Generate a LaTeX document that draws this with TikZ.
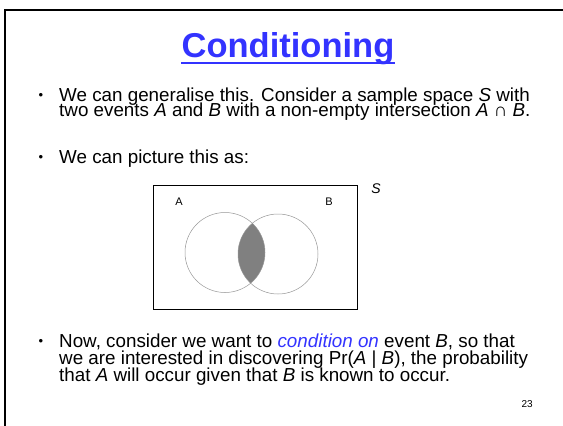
\documentclass[tikz,border=0pt]{standalone}
\usepackage{fontspec}
\setmainfont{Liberation Sans}
\usetikzlibrary{calc}
\definecolor{slideblue}{RGB}{51,51,255}
\definecolor{venngrey}{RGB}{128,128,128}
\definecolor{rimgrey}{RGB}{150,150,150}
\tikzset{
  body/.style={anchor=base west,inner sep=0pt,font=\fontsize{18.8pt}{16.5pt}\selectfont},
  dot/.style={anchor=base,inner sep=0pt,font=\fontsize{13pt}{13pt}\selectfont},
  setlabel/.style={inner sep=0pt,font=\fontsize{11pt}{11pt}\selectfont},
  setrim/.style={draw=rimgrey,line width=0.5pt},
}
\newcommand{\blueit}[1]{\textcolor{slideblue}{\itshape #1}}

\begin{document}
\begin{tikzpicture}[x=1pt,y=-1pt]
  \useasboundingbox (0,0) rectangle (563,426);
  % slide frame
  \draw[line width=2.5pt] (563,10) -- (5,10) -- (5,426);

  % title
  \node[anchor=base,inner sep=0pt,text=slideblue,font=\fontsize{34.5pt}{34.5pt}\selectfont\bfseries]
    (title) at (288,57) {Conditioning};
  \draw[slideblue,line width=2pt] ($(title.base west)+(0,6)$) -- ($(title.base east)+(0,6)$);

  % first point
  \node[dot] (dot1) at (41,99) {•};
  \node[body] (l11) at (59,101) {We can generalise this. Consider a sample space \textit{S} with};
  \node[body] (l12) at (59,116.5) {two events \textit{A} and \textit{B} with a non-empty intersection \textit{A} ∩ \textit{B}.};

  % second point
  \node[dot] (dot2) at (41,161) {•};
  \node[body] (l21) at (59,163) {We can picture this as:};

  % venn picture
  \node[draw,line width=0.9pt,minimum width=204pt,minimum height=124pt,inner sep=0pt]
    (space) at (255,247) {};
  \node[font=\fontsize{14pt}{14pt}\selectfont\itshape,inner sep=0pt] (slab) at (376,189) {S};
  \node[setlabel] (alab) at (179,202) {A};
  \node[setlabel] (blab) at (329,202) {B};
  \coordinate (ca) at (225,252.5);
  \coordinate (cb) at (278,254);
  \begin{scope}
    \clip (ca) circle (40);
    \fill[venngrey] (cb) circle (40);
  \end{scope}
  \draw[setrim] (ca) circle (40);
  \draw[setrim] (cb) circle (40);

  % third point
  \node[dot] (dot3) at (41,345) {•};
  \node[body] (l31) at (59,347) {Now, consider we want to \blueit{condition on} event \textit{B}, so that};
  \node[body] (l32) at (59,364.5) {we are interested in discovering Pr(\textit{A} | \textit{B}), the probability};
  \node[body] (l33) at (59,381.5) {that \textit{A} will occur given that \textit{B} is known to occur.};

  % page number
  \node[anchor=base east,inner sep=0pt,font=\fontsize{10pt}{10pt}\selectfont] (pageno) at (533,407) {23};
\end{tikzpicture}
\end{document}
